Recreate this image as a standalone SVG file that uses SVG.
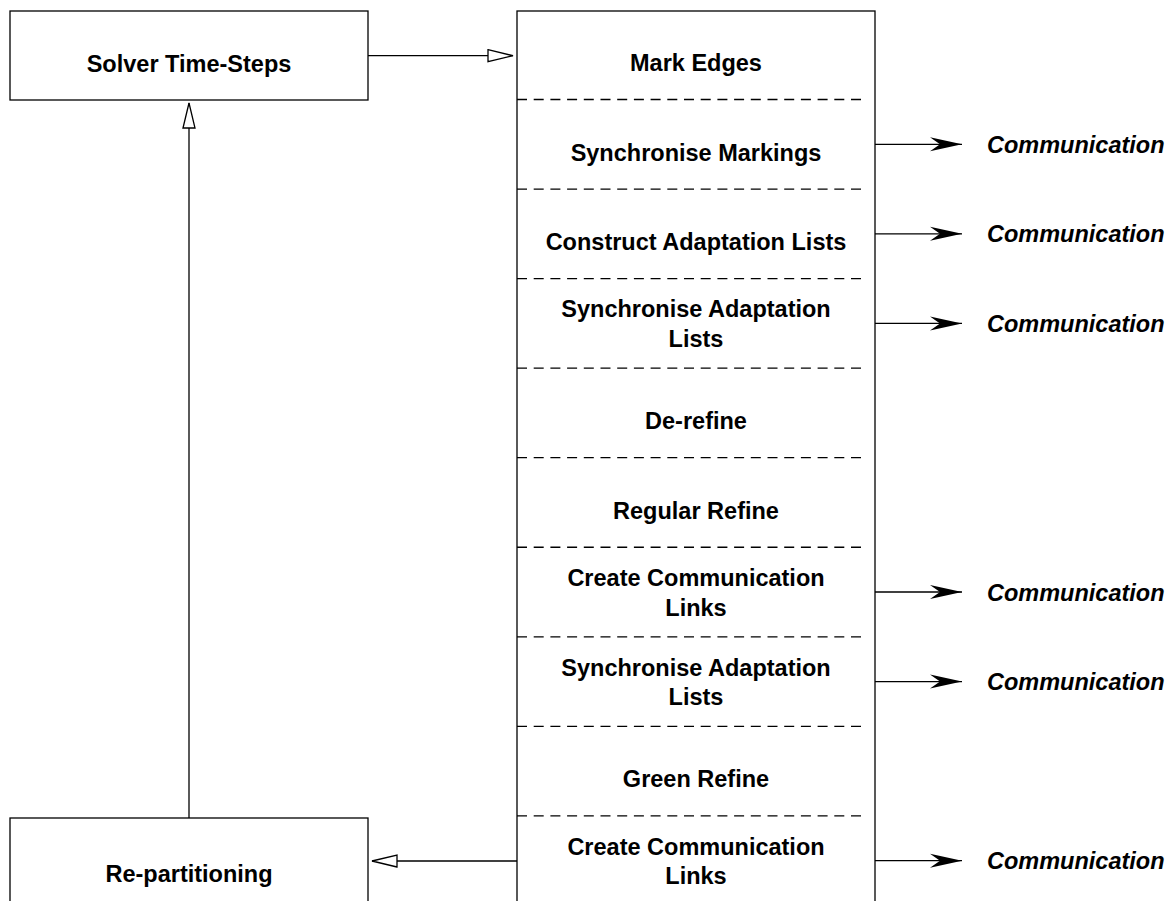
<svg xmlns="http://www.w3.org/2000/svg" width="1170" height="901" viewBox="0 0 1170 901">
<style>
.box{fill:#fff;stroke:#000;stroke-width:1.3}
.dash{stroke:#000;stroke-width:1.3;stroke-dasharray:10 6.7;fill:none}
.lbl{font-family:"Liberation Sans",Arial,sans-serif;font-weight:bold;font-size:23.5px;fill:#000;text-anchor:middle}
.com{font-family:"Liberation Sans",Arial,sans-serif;font-weight:bold;font-style:italic;font-size:23.5px;fill:#000}
.edge{stroke:#000;stroke-width:1.3;fill:none}
.open{marker-end:url(#openTri)}
.solid{marker-end:url(#stealth)}
</style>
<defs>
<marker id="openTri" markerUnits="userSpaceOnUse" markerWidth="30" markerHeight="16" refX="25" refY="6" orient="auto" overflow="visible">
<path d="M0,0 L25,6 L0,12 Z" fill="#fff" stroke="#000" stroke-width="1.3"/>
</marker>
<marker id="stealth" markerUnits="userSpaceOnUse" markerWidth="34" markerHeight="16" refX="32" refY="7" orient="auto" overflow="visible">
<path d="M0,0 L32,7 L0,14 L10,7 Z" fill="#000" stroke="none"/>
</marker>
</defs>
<rect width="1170" height="901" fill="#fff"/>

<g id="connectors">
<line class="edge open" x1="368" y1="55.7" x2="513" y2="55.7"/>
<line class="edge open" x1="189" y1="818" x2="189" y2="103"/>
<line class="edge open" x1="517" y1="861" x2="372" y2="861"/>
<line class="edge solid" x1="875" y1="144.3" x2="962" y2="144.3"/>
<line class="edge solid" x1="875" y1="233.8" x2="962" y2="233.8"/>
<line class="edge solid" x1="875" y1="323.4" x2="962" y2="323.4"/>
<line class="edge solid" x1="875" y1="592" x2="962" y2="592"/>
<line class="edge solid" x1="875" y1="681.6" x2="962" y2="681.6"/>
<line class="edge solid" x1="875" y1="860.7" x2="962" y2="860.7"/>
</g>

<g id="solver">
<rect class="box" x="10" y="11" width="358" height="89"/>
<text class="lbl" x="189" y="72">Solver Time-Steps</text>
</g>

<g id="repartitioning">
<rect class="box" x="10" y="818" width="358" height="100"/>
<text class="lbl" x="189" y="882">Re-partitioning</text>
</g>

<g id="adaptation">
<rect class="box" x="517" y="11" width="358" height="910"/>
<line class="dash" x1="517" y1="99.5" x2="866" y2="99.5"/>
<line class="dash" x1="517" y1="189.05" x2="866" y2="189.05"/>
<line class="dash" x1="517" y1="278.6" x2="866" y2="278.6"/>
<line class="dash" x1="517" y1="368.15" x2="866" y2="368.15"/>
<line class="dash" x1="517" y1="457.7" x2="866" y2="457.7"/>
<line class="dash" x1="517" y1="547.25" x2="866" y2="547.25"/>
<line class="dash" x1="517" y1="636.8" x2="866" y2="636.8"/>
<line class="dash" x1="517" y1="726.35" x2="866" y2="726.35"/>
<line class="dash" x1="517" y1="815.9" x2="866" y2="815.9"/>
</g>

<g id="step-mark-edges"><text class="lbl" x="696" y="71">Mark Edges</text></g>
<g id="step-sync-markings"><text class="lbl" x="696" y="160.5">Synchronise Markings</text></g>
<g id="step-construct-lists"><text class="lbl" x="696" y="250">Construct Adaptation Lists</text></g>
<g id="step-sync-lists-1"><text class="lbl" x="696" y="317.4">Synchronise Adaptation</text><text class="lbl" x="696" y="346.9">Lists</text></g>
<g id="step-derefine"><text class="lbl" x="696" y="429.3">De-refine</text></g>
<g id="step-regular-refine"><text class="lbl" x="696" y="518.7">Regular Refine</text></g>
<g id="step-create-links-1"><text class="lbl" x="696" y="586">Create Communication</text><text class="lbl" x="696" y="615.5">Links</text></g>
<g id="step-sync-lists-2"><text class="lbl" x="696" y="675.6">Synchronise Adaptation</text><text class="lbl" x="696" y="705.1">Lists</text></g>
<g id="step-green-refine"><text class="lbl" x="696" y="787.3">Green Refine</text></g>
<g id="step-create-links-2"><text class="lbl" x="696" y="854.7">Create Communication</text><text class="lbl" x="696" y="884.2">Links</text></g>

<g id="comm-1"><text class="com" x="987" y="152.8">Communication</text></g>
<g id="comm-2"><text class="com" x="987" y="242.3">Communication</text></g>
<g id="comm-3"><text class="com" x="987" y="331.9">Communication</text></g>
<g id="comm-4"><text class="com" x="987" y="600.5">Communication</text></g>
<g id="comm-5"><text class="com" x="987" y="690.1">Communication</text></g>
<g id="comm-6"><text class="com" x="987" y="869.2">Communication</text></g>
</svg>
